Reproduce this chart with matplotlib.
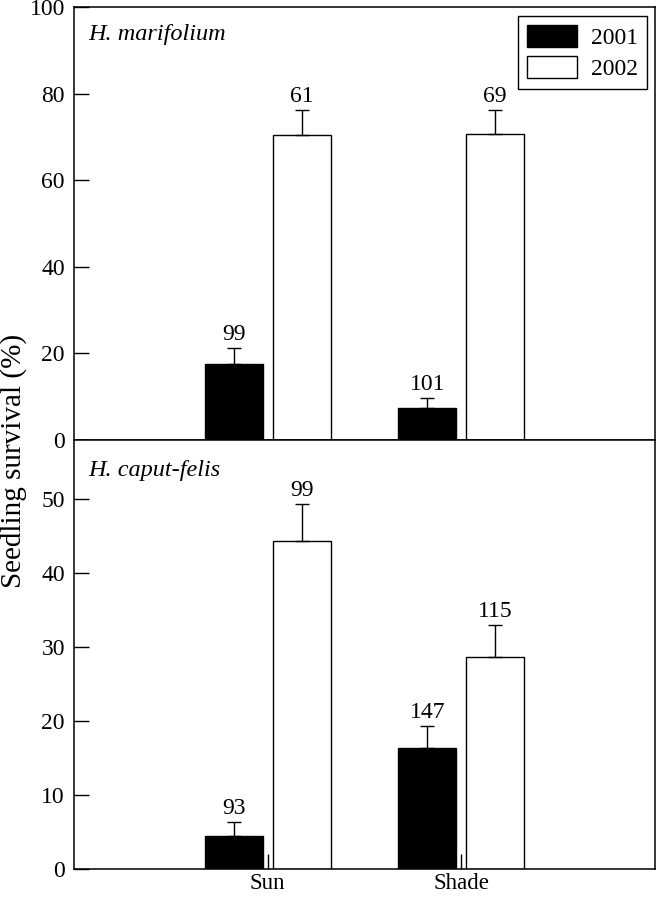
import matplotlib
matplotlib.use("Agg")
import matplotlib.pyplot as plt
from matplotlib.patches import Patch
import numpy as np

plt.rcParams['font.family'] = ['Liberation Serif', 'DejaVu Serif']

groups = ['Sun', 'Shade']
years = ['2001', '2002']

# H. marifolium (top panel)
hm_2001 = [17.5, 7.4]
hm_2001_se = [3.7, 2.3]
hm_2002 = [70.4, 70.7]
hm_2002_se = [5.8, 5.5]
hm_n_2001 = [99, 101]
hm_n_2002 = [61, 69]

# H. caput-felis (bottom panel)
hc_2001 = [4.5, 16.3]
hc_2001_se = [1.8, 3.0]
hc_2002 = [44.3, 28.6]
hc_2002_se = [5.0, 4.4]
hc_n_2001 = [93, 147]
hc_n_2002 = [99, 115]

W, H = 657, 899
fig = plt.figure(figsize=(W / 100, H / 100), dpi=100)
left = 74 / W
width = (655 - 74) / W
ax1 = fig.add_axes([left, 1 - 440 / H, width, (440 - 7) / H])
ax2 = fig.add_axes([left, 1 - 869 / H, width, (869 - 440) / H])

x = np.arange(1, len(groups) + 1)
off = 0.175
bw = 0.30
tick_fs = 17


def panel(ax, v1, s1, n1, v2, s2, n2, name, ylim, yticks, name_y):
    ax.bar(x - off, v1, bw, color='black', edgecolor='black', linewidth=1.0, zorder=2)
    ax.bar(x + off, v2, bw, color='white', edgecolor='black', linewidth=1.0, zorder=2)
    ax.errorbar(x - off, v1, yerr=[np.zeros(len(s1)), s1], fmt='none', ecolor='black',
                elinewidth=1.0, capsize=4.7, capthick=1.0, zorder=3)
    ax.errorbar(x + off, v2, yerr=[np.zeros(len(s2)), s2], fmt='none', ecolor='black',
                elinewidth=1.0, capsize=4.7, capthick=1.0, zorder=3)
    for xi, v, s, n in zip(x - off, v1, s1, n1):
        ax.annotate(str(n), xy=(xi, v + s), xytext=(0, 6), textcoords='offset points',
                    ha='center', va='baseline', fontsize=tick_fs)
    for xi, v, s, n in zip(x + off, v2, s2, n2):
        ax.annotate(str(n), xy=(xi, v + s), xytext=(0, 6), textcoords='offset points',
                    ha='center', va='baseline', fontsize=tick_fs)
    ax.set_xlim(0, 3)
    ax.set_ylim(*ylim)
    ax.set_yticks(yticks)
    ax.tick_params(axis='y', direction='in', length=11, width=1.0, labelsize=tick_fs, pad=6.5)
    for sp in ax.spines.values():
        sp.set_linewidth(1.1)
    ax.text(0.024, name_y, name, transform=ax.transAxes, style='italic',
            fontsize=17.5, ha='left', va='baseline')


panel(ax1, hm_2001, hm_2001_se, hm_n_2001, hm_2002, hm_2002_se, hm_n_2002,
      'H. marifolium', (0, 100), np.arange(0, 101, 20), 0.924)
panel(ax2, hc_2001, hc_2001_se, hc_n_2001, hc_2002, hc_2002_se, hc_n_2002,
      'H. caput-felis', (0, 58), np.arange(0, 51, 10), 0.917)

ax1.tick_params(axis='x', bottom=False, labelbottom=False)
ax2.set_xticks(x)
ax2.set_xticklabels(groups)
ax2.tick_params(axis='x', direction='in', length=11, width=1.0, labelsize=16.5, pad=3)

handles = [Patch(facecolor='black', edgecolor='black', linewidth=1.0),
           Patch(facecolor='white', edgecolor='black', linewidth=1.0)]
leg = ax1.legend(handles, years, loc='upper right', bbox_to_anchor=(0.986, 0.979),
                 fontsize=tick_fs, frameon=True, fancybox=False, edgecolor='black',
                 framealpha=1, borderaxespad=0, handlelength=2.1, handleheight=1.06,
                 handletextpad=0.6, borderpad=0.38, labelspacing=0.3)
leg.get_frame().set_linewidth(1.0)

fig.text(14 / W, 1 - 461 / H, 'Seedling survival (%)', rotation=90,
         ha='center', va='center', fontsize=21)

fig.savefig('out.png', dpi=100)
